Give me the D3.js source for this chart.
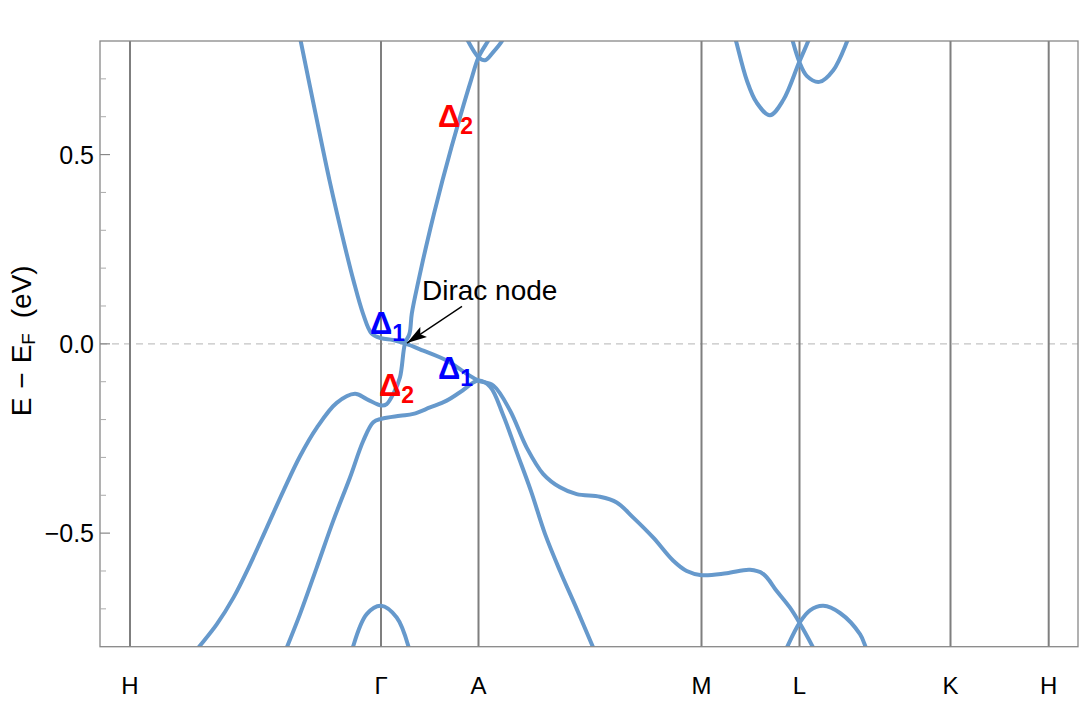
<!DOCTYPE html>
<html>
<head>
<meta charset="utf-8">
<script src="https://cdn.jsdelivr.net/npm/d3@7"></script>
<style>
  body { margin: 0; background: #fff; }
  text { font-family: "Liberation Sans", Arial, sans-serif; }
</style>
</head>
<body>
<svg id="chart" width="1080" height="720"></svg>
<script>
// high symmetry points along the k path
var kNames = ['H', 'Γ', 'A', 'M', 'L', 'K', 'H'];
var kPos = [0, 2.51, 3.485, 5.715, 6.695, 8.205, 9.187];

// bands, [k, E - EF]
var bandCondGamma = [[1.693, 0.818], [1.707, 0.8], [1.855, 0.609], [1.995, 0.432], [2.15, 0.256], [2.235, 0.167], [2.33, 0.08], [2.417, 0.027], [2.51, 0.015], [2.63, 0.01], [2.75, 0.001], [2.933, -0.018], [3.167, -0.044], [3.367, -0.079], [3.485, -0.097], [3.633, -0.11], [3.8, -0.176], [3.967, -0.274], [4.133, -0.344], [4.3, -0.379], [4.467, -0.397], [4.7, -0.404], [4.867, -0.419], [5.033, -0.459], [5.233, -0.512], [5.433, -0.573], [5.567, -0.6], [5.715, -0.611], [5.967, -0.606], [6.2, -0.597], [6.333, -0.608], [6.467, -0.653], [6.6, -0.697], [6.695, -0.737], [6.833, -0.803], [6.87, -0.822]];
var bandDelta2 = [[0.628, -0.822], [0.683, -0.803], [0.867, -0.741], [1.033, -0.671], [1.2, -0.583], [1.367, -0.486], [1.533, -0.389], [1.7, -0.297], [1.867, -0.222], [2.067, -0.156], [2.25, -0.132], [2.367, -0.146], [2.517, -0.163], [2.567, -0.159], [2.633, -0.132], [2.7, -0.088], [2.75, 0.001], [2.795, 0.027], [2.818, 0.08], [2.885, 0.167], [2.96, 0.256], [3.04, 0.344], [3.125, 0.432], [3.215, 0.52], [3.31, 0.608], [3.41, 0.696], [3.485, 0.757], [3.58, 0.8], [3.62, 0.818]];
var bandValence = [[1.539, -0.822], [1.567, -0.803], [1.7, -0.714], [1.867, -0.591], [2.033, -0.467], [2.2, -0.353], [2.333, -0.256], [2.433, -0.207], [2.515, -0.198], [2.7, -0.19], [2.833, -0.185], [3.0, -0.168], [3.167, -0.15], [3.3, -0.128], [3.485, -0.097], [3.6, -0.113], [3.73, -0.187], [3.87, -0.288], [4.01, -0.389], [4.15, -0.502], [4.3, -0.6], [4.467, -0.700], [4.633, -0.803], [4.665, -0.822]];
var bandGammaLow = [[2.215, -0.822], [2.233, -0.798], [2.367, -0.714], [2.51, -0.692], [2.667, -0.723], [2.783, -0.798], [2.8, -0.822]];
var bandLLow = [[6.535, -0.822], [6.567, -0.803], [6.695, -0.737], [6.8, -0.704], [6.933, -0.692], [7.1, -0.711], [7.3, -0.767], [7.36, -0.803], [7.39, -0.822]];
var bandMLHigh1 = [[6.04, 0.818], [6.06, 0.8], [6.167, 0.697], [6.267, 0.637], [6.4, 0.604], [6.533, 0.644], [6.693, 0.745], [6.783, 0.8], [6.81, 0.818]];
var bandMLHigh2 = [[6.61, 0.818], [6.627, 0.8], [6.693, 0.745], [6.767, 0.708], [6.893, 0.692], [7.033, 0.723], [7.173, 0.8], [7.2, 0.818]];
var bandAHigh = [[3.35, 0.818], [3.38, 0.8], [3.485, 0.757], [3.55, 0.749], [3.63, 0.77], [3.72, 0.8], [3.75, 0.818]];

var bands = [bandCondGamma, bandDelta2, bandValence, bandGammaLow, bandLLow, bandMLHigh1, bandMLHigh2, bandAHigh];

var yMajor = [-0.5, 0, 0.5];
var yMinor = [-0.7, -0.6, -0.4, -0.3, -0.2, -0.1, 0.1, 0.2, 0.3, 0.4, 0.6, 0.7];

// irreducible representation labels [k, E, text, sub, colour]
var irrepLabels = [
  [3.08, 0.573, 'Δ', '2', '#ff0000'],
  [2.40, 0.025, 'Δ', '1', '#0000ff'],
  [3.08, -0.092, 'Δ', '1', '#0000ff'],
  [2.49, -0.139, 'Δ', '2', '#ff0000']
];
var diracText = [2.92, 0.117];
var diracArrow = [[3.32, 0.099], [2.77, 0.002]];

var margin = { top: 41, right: 2, bottom: 73.3, left: 100 },
  width = 1080 - margin.left - margin.right,
  height = 720 - margin.top - margin.bottom;

var svg = d3.select('#chart');
var g = svg.append('g').attr('transform', 'translate(' + margin.left + ',' + margin.top + ')');

var x = d3.scaleLinear().domain([-0.3, 9.48]).range([0, width]);
var y = d3.scaleLinear().domain([-0.8, 0.8]).range([height, 0]);

var defs = svg.append('defs');
defs.append('clipPath').attr('id', 'clip')
  .append('rect').attr('width', width).attr('height', height);
defs.append('marker')
  .attr('id', 'head').attr('viewBox', '0 0 20 14').attr('refX', 20).attr('refY', 7)
  .attr('markerWidth', 20).attr('markerHeight', 14).attr('orient', 'auto').attr('markerUnits', 'userSpaceOnUse')
  .append('path').attr('d', 'M0,1 L20,7 L0,13 L4,7 Z').attr('fill', '#000');

// Fermi level
g.append('line')
  .attr('x1', 0).attr('x2', width).attr('y1', y(0)).attr('y2', y(0))
  .attr('stroke', '#c4c4c4').attr('stroke-width', 1.2).attr('stroke-dasharray', '7,5');

// high symmetry lines
g.selectAll('.kline').data(kPos).enter().append('line')
  .attr('class', 'kline')
  .attr('x1', d => x(d)).attr('x2', d => x(d)).attr('y1', 0).attr('y2', height)
  .attr('stroke', '#7f7f7f').attr('stroke-width', 2);

var line = d3.line().x(d => x(d[0])).y(d => y(d[1])).curve(d3.curveCatmullRom.alpha(0.5));

g.append('g').attr('clip-path', 'url(#clip)')
  .selectAll('path').data(bands).enter().append('path')
  .attr('d', line)
  .attr('fill', 'none').attr('stroke', '#6699cc').attr('stroke-width', 4)
  .attr('stroke-linejoin', 'round');

// frame
g.append('rect').attr('width', width).attr('height', height)
  .attr('fill', 'none').attr('stroke', '#888').attr('stroke-width', 1.3);

// y ticks
g.selectAll('.ymaj').data(yMajor).enter().append('line')
  .attr('x1', 0).attr('x2', 10).attr('y1', d => y(d)).attr('y2', d => y(d))
  .attr('stroke', '#888').attr('stroke-width', 1.2);
g.selectAll('.ymin').data(yMinor).enter().append('line')
  .attr('x1', 0).attr('x2', 6).attr('y1', d => y(d)).attr('y2', d => y(d))
  .attr('stroke', '#aaa').attr('stroke-width', 1);

var fmt = d3.format('.1f');
g.selectAll('.ylab').data(yMajor).enter().append('text')
  .attr('x', -6).attr('y', d => y(d)).attr('dy', '0.36em')
  .attr('text-anchor', 'end').attr('font-size', 25)
  .text(d => fmt(d).replace('-', '\u2212'));

g.selectAll('.xlab').data(kPos).enter().append('text')
  .attr('x', d => x(d)).attr('y', height + 47)
  .attr('text-anchor', 'middle').attr('font-size', 24)
  .text((d, i) => kNames[i]);

// y axis title
var yt = svg.append('text')
  .attr('transform', 'translate(31,' + (margin.top + y(0) - 3) + ') rotate(-90)')
  .attr('text-anchor', 'middle').attr('font-size', 28);
yt.append('tspan').text('E');
yt.append('tspan').attr('dx', 9).text('\u2212');
yt.append('tspan').attr('dx', 9).text('E');
yt.append('tspan').attr('font-size', 19).attr('dy', 4).text('F');
yt.append('tspan').attr('dy', -4).attr('dx', 7).text(' (eV)');

// labels
irrepLabels.forEach(function (d) {
  var t = g.append('text')
    .attr('x', x(d[0])).attr('y', y(d[1]))
    .attr('font-size', 31).attr('font-weight', 'bold').attr('fill', d[4]);
  t.append('tspan').text(d[2]);
  t.append('tspan').attr('font-size', 23).attr('dy', 7).text(d[3]);
});

g.append('text')
  .attr('x', x(diracText[0])).attr('y', y(diracText[1]))
  .attr('font-size', 28).text('Dirac node');

g.append('line')
  .attr('x1', x(diracArrow[0][0])).attr('y1', y(diracArrow[0][1]))
  .attr('x2', x(diracArrow[1][0])).attr('y2', y(diracArrow[1][1]))
  .attr('stroke', '#000').attr('stroke-width', 1.3).attr('marker-end', 'url(#head)');
</script>
</body>
</html>
